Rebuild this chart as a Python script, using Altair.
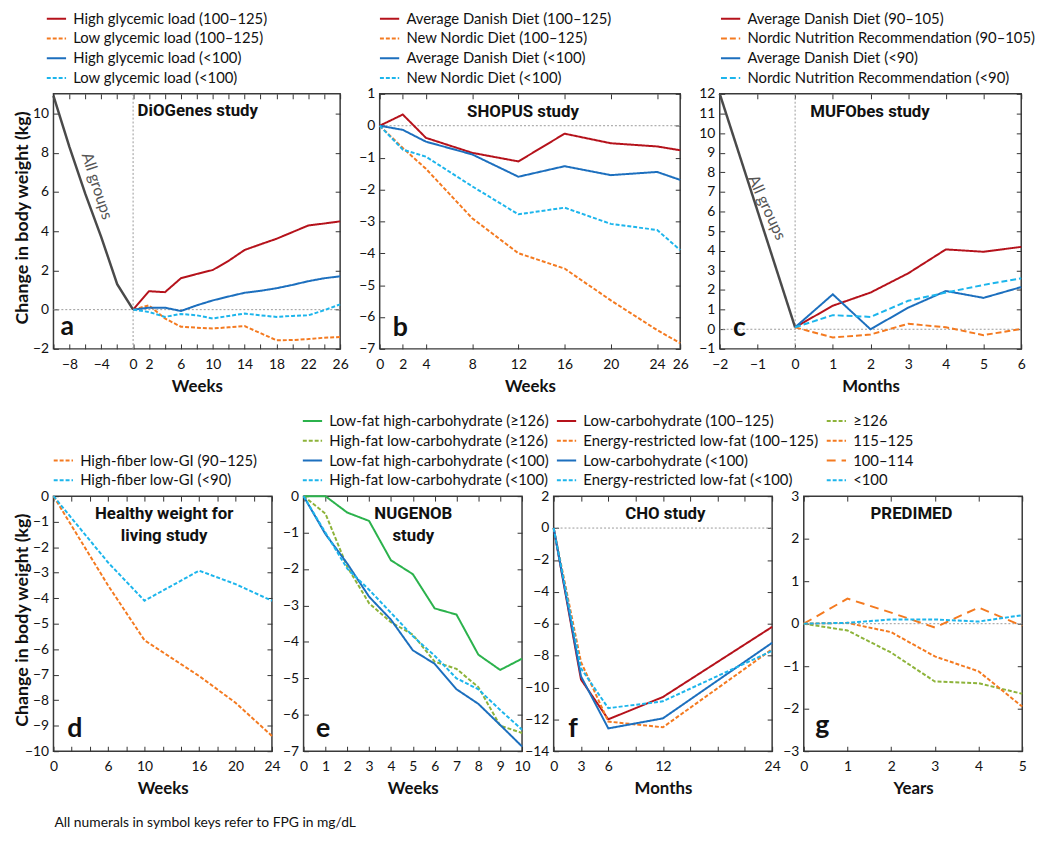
import altair as alt
import pandas as pd

FONT = "Lato"
TFONT = "Roboto"

RED = "#b5121b"
ORANGE = "#f47a20"
BLUE = "#1c6fbe"
CYAN = "#1cb5ec"
GREEN = "#2bb24c"
OLIVE = "#8db33a"
GRAY = "#4a4a4a"
SOLID = [1, 0]
DASH = [4, 2]
MDASH = [6, 3]
LONG = [9, 6]

# ---------------- Panel a: DiOGenes ----------------
a_pre_weeks = [-10, -8, -6, -4, -2, 0]
a_pre_all = [10.9, 8.3, 5.9, 3.7, 1.3, 0.0]
a_weeks = [0, 2, 4, 6, 8, 10, 12, 14, 16, 18, 20, 22, 24, 26]
a_names = ["High glycemic load (100–125)", "Low glycemic load (100–125)",
           "High glycemic load (<100)", "Low glycemic load (<100)"]
a_hgl_100_125 = [0, 0.94, 0.89, 1.6, 1.82, 2.02, 2.49, 3.04, 3.33, 3.61, 3.95, 4.29, 4.39, 4.5]
a_lgl_100_125 = [0, 0.22, -0.45, -0.87, -0.92, -0.96, -0.9, -0.84, -1.2, -1.56, -1.55, -1.5, -1.43, -1.4]
a_hgl_lt100 = [0, 0.1, 0.1, -0.07, 0.22, 0.47, 0.67, 0.86, 0.96, 1.09, 1.26, 1.45, 1.6, 1.7]
a_lgl_lt100 = [0, -0.12, -0.37, -0.22, -0.29, -0.45, -0.32, -0.2, -0.29, -0.37, -0.32, -0.29, -0.03, 0.27]
a_xlabels = [-8, -4, 0, 2, 6, 10, 14, 18, 22, 26]
a_xticks = list(range(-10, 27, 2))
a_ylabels = [-2, 0, 2, 4, 6, 8, 10]

# ---------------- Panel b: SHOPUS ----------------
b_weeks = [0, 2, 4, 8, 12, 16, 20, 24, 26]
b_names = ["Average Danish Diet (100–125)", "New Nordic Diet (100–125)",
           "Average Danish Diet (<100)", "New Nordic Diet (<100)"]
b_add_100_125 = [0, 0.35, -0.38, -0.85, -1.12, -0.25, -0.55, -0.65, -0.77]
b_nnd_100_125 = [0, -0.7, -1.35, -2.9, -4.0, -4.48, -5.48, -6.41, -6.82]
b_add_lt100 = [0, -0.13, -0.5, -0.9, -1.6, -1.27, -1.55, -1.45, -1.7]
b_nnd_lt100 = [0, -0.75, -0.97, -1.9, -2.78, -2.57, -3.08, -3.27, -3.9]
b_xlabels = [0, 2, 4, 8, 12, 16, 20, 24, 26]
b_ylabels = [-7, -6, -5, -4, -3, -2, -1, 0, 1]

# ---------------- Panel c: MUFObes ----------------
c_pre_months = [-2, 0]
c_pre_all = [12.0, 0.1]
c_months = [0, 1, 2, 3, 4, 5, 6]
c_names = ["Average Danish Diet (90–105)", "Nordic Nutrition Recommendation (90–105)",
           "Average Danish Diet (<90)", "Nordic Nutrition Recommendation (<90)"]
c_add_90_105 = [0.1, 1.2, 1.87, 2.85, 4.07, 3.95, 4.2]
c_nnr_90_105 = [0.1, -0.42, -0.27, 0.28, 0.1, -0.3, 0.02]
c_add_lt90 = [0.1, 1.78, 0.0, 1.1, 1.95, 1.6, 2.15]
c_nnr_lt90 = [0.1, 0.72, 0.63, 1.45, 1.87, 2.26, 2.6]
c_xlabels = [-2, -1, 0, 1, 2, 3, 4, 5, 6]
c_ylabels = list(range(-1, 13))

# ---------------- Panel d: Healthy weight for living ----------------
d_weeks = [0, 6, 10, 16, 20, 24]
d_names = ["High-fiber low-GI (90–125)", "High-fiber low-GI (<90)"]
d_hf_90_125 = [0, -3.5, -5.65, -7.05, -8.1, -9.4]
d_hf_lt90 = [0, -2.6, -4.1, -2.92, -3.45, -4.1]
d_xlabels = [0, 6, 10, 16, 20, 24]
d_xticks = list(range(0, 25, 2))
d_ylabels = list(range(-10, 1))

# ---------------- Panel e: NUGENOB ----------------
e_weeks = list(range(0, 11))
e_names = ["Low-fat high-carbohydrate (≥126)", "High-fat low-carbohydrate (≥126)",
           "Low-fat high-carbohydrate (<100)", "High-fat low-carbohydrate (<100)"]
e_lf_ge126 = [0, 0, -0.45, -0.68, -1.76, -2.14, -3.08, -3.25, -4.35, -4.77, -4.46]
e_hf_ge126 = [0, -0.48, -1.94, -2.94, -3.46, -3.8, -4.54, -4.74, -5.24, -6.3, -6.5]
e_lf_lt100 = [0, -1.04, -1.85, -2.76, -3.39, -4.23, -4.6, -5.3, -5.7, -6.28, -6.87]
e_hf_lt100 = [0, -1.0, -1.99, -2.57, -3.2, -3.84, -4.38, -5.0, -5.3, -5.87, -6.41]
e_xlabels = list(range(0, 11))
e_ylabels = list(range(-7, 1))

# ---------------- Panel f: CHO ----------------
f_months = [0, 3, 6, 12, 24]
f_names = ["Low-carbohydrate (100–125)", "Energy-restricted low-fat (100–125)",
           "Low-carbohydrate (<100)", "Energy-restricted low-fat (<100)"]
f_lc_100_125 = [0, -9.5, -12.0, -10.6, -6.2]
f_er_100_125 = [0, -8.4, -12.14, -12.5, -7.6]
f_lc_lt100 = [0, -9.3, -12.57, -11.94, -7.2]
f_er_lt100 = [0, -8.8, -11.3, -10.87, -7.7]
f_xlabels = [0, 3, 6, 12, 24]
f_xticks = list(range(0, 25, 3))
f_ylabels = list(range(-14, 3, 2))

# ---------------- Panel g: PREDIMED ----------------
g_years = [0, 1, 2, 3, 4, 5]
g_names = ["≥126", "115–125", "100–114", "<100"]
g_ge126 = [0, -0.16, -0.68, -1.36, -1.4, -1.65]
g_115_125 = [0, 0.02, -0.2, -0.77, -1.12, -1.95]
g_100_114 = [0, 0.59, 0.26, -0.09, 0.38, -0.05]
g_lt100 = [0, 0.02, 0.1, 0.1, 0.05, 0.2]
g_xlabels = [0, 1, 2, 3, 4, 5]
g_ylabels = [-3, -2, -1, 0, 1, 2, 3]

FOOTER = "All numerals in symbol keys refer to FPG in mg/dL"
YTITLE = "Change in body weight (kg)"

H = 258


def long_df(xs, names, series):
    rows = []
    for n, vals in zip(names, series):
        for x, v in zip(xs, vals):
            rows.append({"x": x, "y": v, "s": n})
    return pd.DataFrame(rows)


def one(**kw):
    return pd.DataFrame({k: [v] for k, v in kw.items()})


def panel(xs_vals, names, series, colors, dashes, w, xdom, ydom, xlab, xtick, ylab,
          xtitle, ytitle, titles, letter, letter_xy, legend_xy,
          pre=None, allgroups=None, zero_h=False, zero_v=False, footer=None):
    h = H
    df = long_df(xs_vals, names, series)
    xsc = alt.Scale(domain=xdom, nice=False, zero=False)
    ysc = alt.Scale(domain=ydom, nice=False, zero=False)
    common = dict(ticks=False, domain=False, grid=False, labelFont=FONT, labelFontSize=14,
                  labelColor="#111", labelOverlap=False, labelFlush=False,
                  titleFont=FONT, titleFontWeight="bold", titleColor="#111")
    xaxis = alt.Axis(orient="bottom", values=xlab, title=xtitle, labelPadding=9,
                     titlePadding=7, titleFontSize=17, **common)
    if ytitle:
        yaxis = alt.Axis(orient="left", values=ylab, title=ytitle, labelPadding=5,
                         titleX=-31, titleY=125, titleBaseline="middle", titleAngle=270,
                         titleFontSize=18, **common)
    else:
        yaxis = alt.Axis(orient="left", values=ylab, title=None, labelPadding=5, **common)
    legend = alt.Legend(orient="none", legendX=legend_xy[0], legendY=legend_xy[1],
                        direction="vertical", title=None, symbolType="stroke",
                        symbolSize=380, symbolStrokeWidth=2, labelFont=FONT,
                        labelFontSize=15, labelColor="#111", labelLimit=500,
                        labelOffset=6, rowPadding=1, padding=0)
    layers = []
    if zero_h:
        layers.append(alt.Chart(one(v=0)).mark_rule(color="#9a9a9a", strokeDash=[2, 2],
                                                      strokeWidth=1)
                      .encode(y=alt.Y("v:Q", scale=ysc, axis=None)))
    if zero_v:
        layers.append(alt.Chart(one(v=0)).mark_rule(color="#9a9a9a", strokeDash=[2, 2],
                                                      strokeWidth=1)
                      .encode(x=alt.X("v:Q", scale=xsc, axis=None)))
    if pre is not None:
        pdf = pd.DataFrame({"x": pre[0], "y": pre[1]})
        layers.append(alt.Chart(pdf).mark_line(color=GRAY, strokeWidth=2.5)
                      .encode(x=alt.X("x:Q", scale=xsc, axis=None),
                              y=alt.Y("y:Q", scale=ysc, axis=None)))
    lines = alt.Chart(df).mark_line(strokeWidth=2).encode(
        x=alt.X("x:Q", scale=xsc, axis=xaxis),
        y=alt.Y("y:Q", scale=ysc, axis=yaxis),
        color=alt.Color("s:N", scale=alt.Scale(domain=names, range=colors), legend=legend),
        strokeDash=alt.StrokeDash("s:N", scale=alt.Scale(domain=names, range=dashes),
                                  legend=legend),
        order=alt.Order("x:Q"),
    )
    layers.append(lines)
    tk = dict(labels=False, domain=False, grid=False, ticks=True, tickSize=5,
              tickColor="#333", tickWidth=1, offset=-5, title=None)
    for xo, yo in (("bottom", "left"), ("top", "right")):
        layers.append(alt.Chart(df).mark_point(opacity=0).encode(
            x=alt.X("x:Q", scale=xsc, axis=alt.Axis(orient=xo, values=xtick, **tk)),
            y=alt.Y("y:Q", scale=ysc, axis=alt.Axis(orient=yo, values=ylab, **tk))))
    if allgroups is not None:
        gx, gy, ang = allgroups
        layers.append(alt.Chart(one(gx=gx, gy=gy)).mark_text(
            text="All groups", angle=ang, font=FONT, fontSize=16, color="#555")
            .encode(x=alt.X("gx:Q", scale=xsc, axis=None),
                    y=alt.Y("gy:Q", scale=ysc, axis=None)))
    for (t, tx, ty) in titles:
        layers.append(alt.Chart(one(k=0)).mark_text(
            text=t, font=TFONT, fontSize=17, fontWeight="bold", color="#111",
            align="center", baseline="middle")
            .encode(x=alt.value(tx), y=alt.value(ty)))
    layers.append(alt.Chart(one(k=0)).mark_text(
        text=letter, font=FONT, fontSize=27, fontWeight="bold", color="#111",
        align="center", baseline="alphabetic")
        .encode(x=alt.value(letter_xy[0]), y=alt.value(letter_xy[1])))
    if footer:
        layers.append(alt.Chart(one(k=0)).mark_text(
            text=footer, font=FONT, fontSize=14, color="#111", align="left",
            baseline="middle")
            .encode(x=alt.value(1), y=alt.value(h + 73)))
    return alt.layer(*layers).resolve_axis(x="independent", y="independent").properties(
        width=w, height=h)


pa = panel(a_weeks, a_names, [a_hgl_100_125, a_lgl_100_125, a_hgl_lt100, a_lgl_lt100],
           [RED, ORANGE, BLUE, CYAN], [SOLID, DASH, SOLID, DASH], 290, [-10, 26], [-2, 11],
           a_xlabels, a_xticks, a_ylabels, "Weeks", YTITLE,
           [("DiOGenes study", 146, 17)], "a", (14, 244), (-8, -87),
           pre=(a_pre_weeks, a_pre_all), allgroups=(-4.55, 6.3, 72), zero_h=True, zero_v=True)

pb = panel(b_weeks, b_names, [b_add_100_125, b_nnd_100_125, b_add_lt100, b_nnd_lt100],
           [RED, ORANGE, BLUE, CYAN], [SOLID, DASH, SOLID, DASH], 304, [0, 26], [-7, 1],
           b_xlabels, b_xlabels, b_ylabels, "Weeks", None,
           [("SHOPUS study", 145, 18)], "b", (21, 245), (-1, -87), zero_h=True)

pc = panel(c_months, c_names, [c_add_90_105, c_nnr_90_105, c_add_lt90, c_nnr_lt90],
           [RED, ORANGE, BLUE, CYAN], [SOLID, MDASH, SOLID, MDASH], 305, [-2, 6], [-1, 12],
           c_xlabels, c_xlabels, c_ylabels, "Months", None,
           [("MUFObes study", 152, 18)], "c", (20, 245), (0, -87),
           pre=(c_pre_months, c_pre_all), allgroups=(-0.75, 6.2, 65), zero_h=True, zero_v=True)

pd_ = panel(d_weeks, d_names, [d_hf_90_125, d_hf_lt90],
            [ORANGE, CYAN], [DASH, DASH], 221, [0, 24], [-10, 0],
            d_xlabels, d_xticks, d_ylabels, "Weeks", YTITLE,
            [("Healthy weight for", 112, 18), ("living study", 112, 40.5)], "d", (21.5, 244),
            (-1, -47), footer=FOOTER)

pe = panel(e_weeks, e_names, [e_lf_ge126, e_hf_ge126, e_lf_lt100, e_hf_lt100],
           [GREEN, OLIVE, BLUE, CYAN], [SOLID, DASH, SOLID, DASH], 221, [0, 10], [-7, 0],
           e_xlabels, e_xlabels, e_ylabels, "Weeks", None,
           [("NUGENOB", 111, 18), ("study", 111, 40.5)], "e", (19.7, 244), (-2, -87))

pf = panel(f_months, f_names, [f_lc_100_125, f_er_100_125, f_lc_lt100, f_er_lt100],
           [RED, ORANGE, BLUE, CYAN], [SOLID, DASH, SOLID, DASH], 221, [0, 24], [-14, 2],
           f_xlabels, f_xticks, f_ylabels, "Months", None,
           [("CHO study", 113, 18)], "f", (19.5, 244), (2, -87), zero_h=True)

pg = panel(g_years, g_names, [g_ge126, g_115_125, g_100_114, g_lt100],
           [OLIVE, ORANGE, ORANGE, CYAN], [DASH, DASH, LONG, DASH], 221, [0, 5], [-3, 3],
           g_xlabels, g_xlabels, g_ylabels, "Years", None,
           [("PREDIMED", 109, 18)], "g", (18.7, 241), (22, -87), zero_h=True)

top = alt.hconcat(pa, pb, pc, spacing=40, bounds="flush").resolve_scale(
    color="independent", strokeDash="independent")
bottom = alt.hconcat(pd_, pe, pf, pg, spacing=32, bounds="flush").resolve_scale(
    color="independent", strokeDash="independent")

chart = alt.vconcat(top, bottom, spacing=14).resolve_scale(
    color="independent", strokeDash="independent").properties(
    padding={"left": 5, "top": -6, "right": 5, "bottom": 5}, background="white"
).configure_view(stroke="#3a3a3a", strokeWidth=1.5)

chart.save("out.html", embed_options={"renderer": "svg", "actions": False})
